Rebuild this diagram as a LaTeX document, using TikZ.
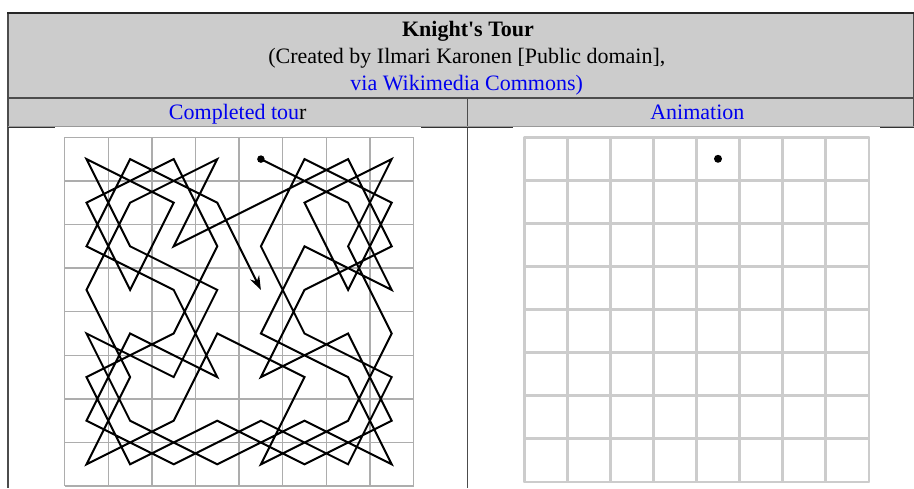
\documentclass[tikz,border=0pt]{standalone}
\usepackage{fontspec}
\setmainfont{Liberation Serif}
\usepackage{xcolor}
\usepackage{tikz}
\usetikzlibrary{arrows.meta,positioning}

\definecolor{linkblue}{RGB}{0,0,238}
\definecolor{headgray}{RGB}{204,204,204}
\tikzset{
  rule/.style={draw=black!70, line width=1.5},
  gridline/.style={draw=black!32, line width=1.5},
  anigrid/.style={draw=black!20, line width=2.4, line cap=round},
  tour/.style={line width=2, -{Stealth[length=14,width=10]}},
  txt/.style={anchor=base, inner sep=0pt, font=\fontsize{22}{26}\selectfont},
  dot/.style={circle, fill=black, inner sep=0pt, minimum size=#1}
}

\begin{document}
\begin{tikzpicture}[x=1pt, y=-1pt]
    \useasboundingbox (0,0) rectangle (914,488);
    % header rows
    \fill[headgray] (8,13) rectangle (914,127);
    \draw[rule] (8,98) -- (914,98);
    \draw[rule] (467.5,98) -- (467.5,488);
    \draw[rule] (8,12) -- (8,488);
    \draw[rule] (913.3,13) -- (913.3,127);
    \draw[draw=black!85, line width=2.5] (7,13) -- (914,13);
    \draw[draw=black!40, line width=1] (8,126.5) -- (914,126.5);
    \foreach \a/\b in {8/55, 421/513, 880/914}
      \draw[draw=black!80, line width=1.5] (\a,127.6) -- (\b,127.6);
    \node[txt, font=\fontsize{22}{26}\selectfont\bfseries] (title) at (468,36) {Knight\textquotesingle s Tour};
    \node[txt] (credit) at (466.8,63.3) {(Created by Ilmari Karonen [Public domain],};
    \node[txt, text=linkblue] (source) at (466.7,90.7) {via Wikimedia Commons)};
    \node[txt] (lefthead) at (237.7,119.3) {\textcolor{linkblue}{Completed tou}r};
    \node[txt, text=linkblue] (righthead) at (697.3,119.3) {Animation};
    % completed tour board
    \foreach \i in {0,...,8} {
      \draw[gridline] (64.7+43.6*\i,137.3) -- (64.7+43.6*\i,486.1);
      \draw[gridline] (64.7,137.3+43.6*\i) -- (413.5,137.3+43.6*\i);
    }
    \foreach \c in {0,...,7}
      \foreach \r in {0,...,7}
        \coordinate (L\c\r) at (86.5+43.6*\c,159.1+43.6*\r);
    \draw[tour] (L40) -- (L61) -- (L73) -- (L52) -- (L44) -- (L65) -- (L77) -- (L56)
      -- (L37) -- (L16) -- (L04) -- (L25) -- (L33) -- (L12) -- (L00) -- (L21)
      -- (L13) -- (L01) -- (L20) -- (L32) -- (L24) -- (L05) -- (L17) -- (L36)
      -- (L57) -- (L76) -- (L64) -- (L45) -- (L53) -- (L72) -- (L60) -- (L41)
      -- (L22) -- (L30) -- (L11) -- (L03) -- (L15) -- (L07) -- (L26) -- (L34)
      -- (L55) -- (L47) -- (L66) -- (L74) -- (L62) -- (L70) -- (L51) -- (L63)
      -- (L71) -- (L50) -- (L42) -- (L54) -- (L75) -- (L67) -- (L46) -- (L27)
      -- (L06) -- (L14) -- (L35) -- (L23) -- (L02) -- (L10) -- (L31) -- (L43);
    \node[dot=7.5] (start) at (L40) {};
    % animation board
    \foreach \i in {0,...,8} {
      \draw[anigrid] (524.3+43.05*\i,137.3) -- (524.3+43.05*\i,481.7);
      \draw[anigrid] (524.3,137.3+43.05*\i) -- (868.7,137.3+43.05*\i);
    }
    \node[dot=8] (anidot) at (718,158.8) {};
  \end{tikzpicture}
\end{document}
